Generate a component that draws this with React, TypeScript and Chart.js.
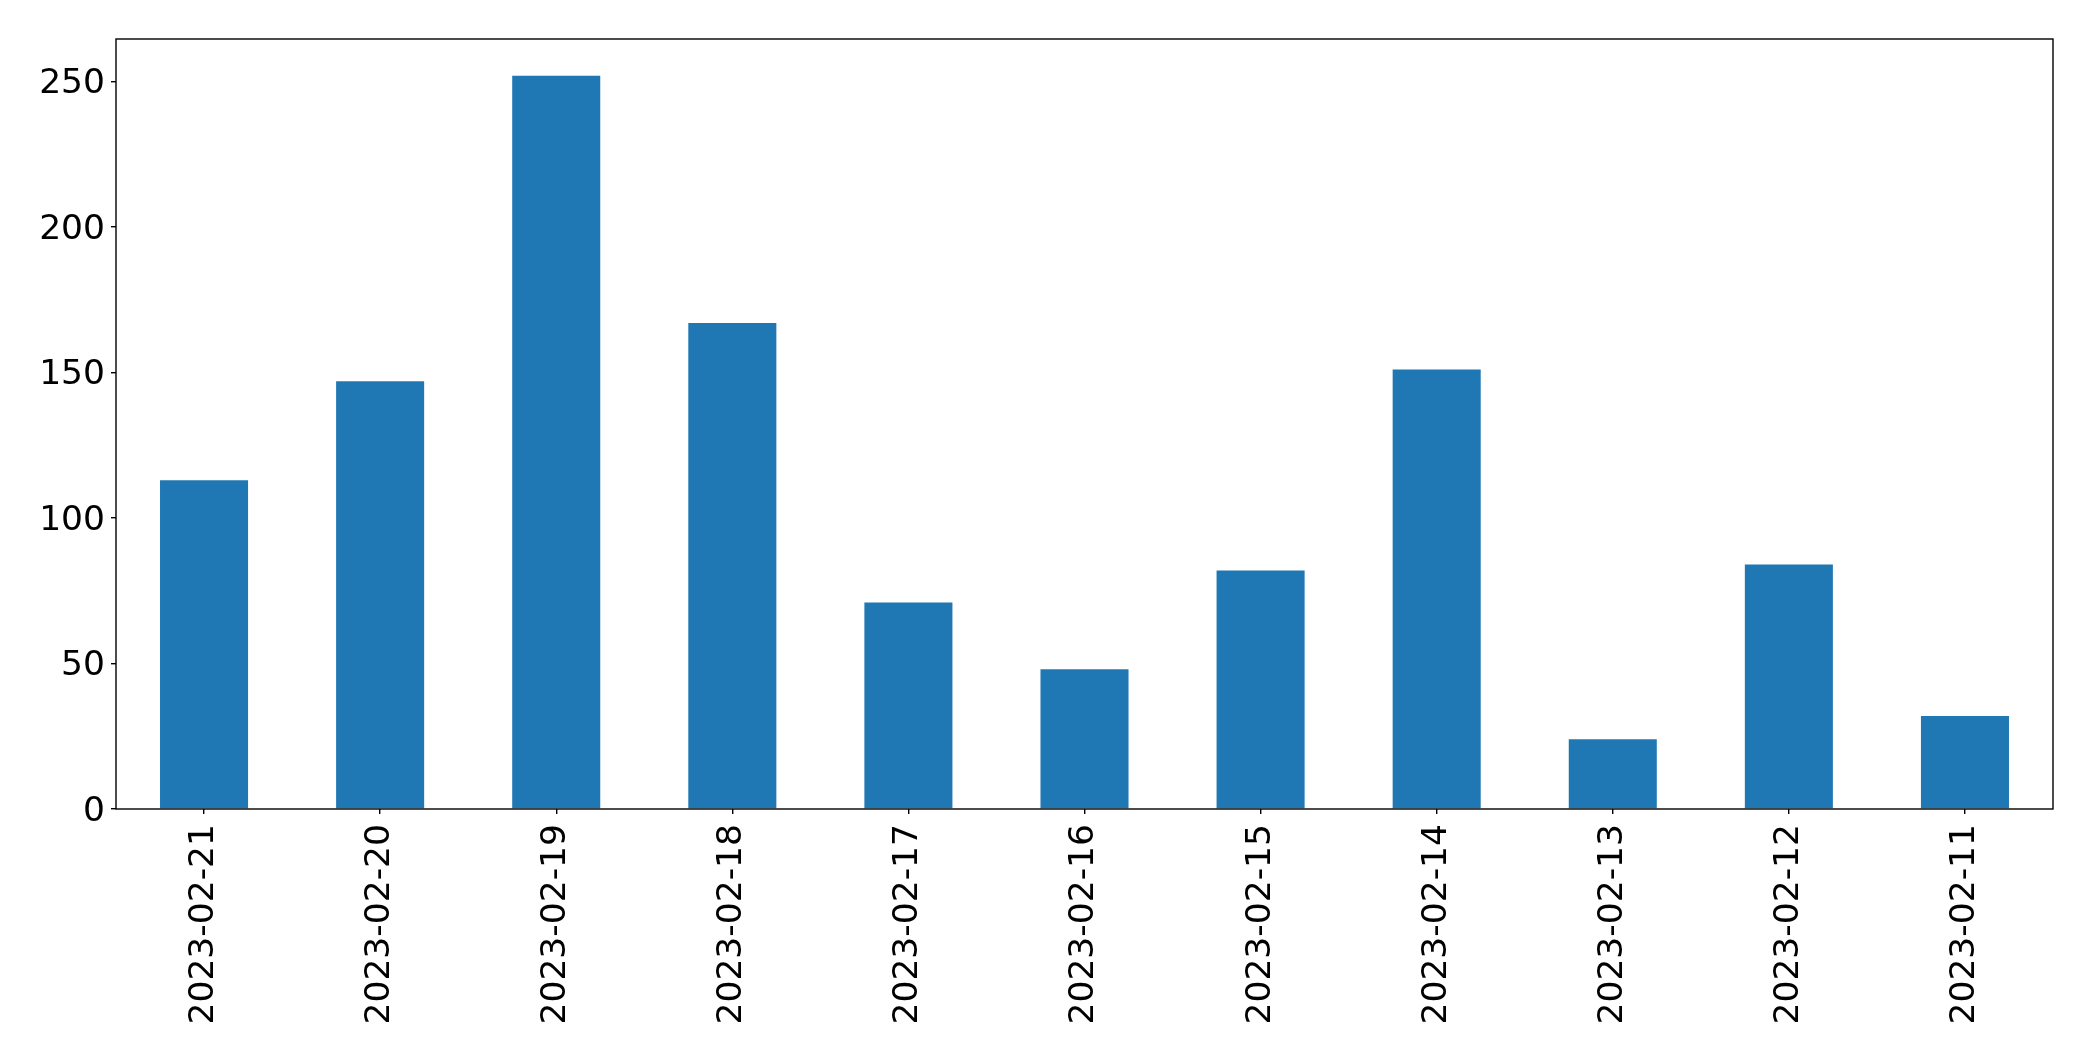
import React, { useEffect, useRef } from "react";
import { Chart, registerables } from "chart.js";

Chart.register(...registerables);

const categories = [
  "2023-02-21", "2023-02-20", "2023-02-19", "2023-02-18", "2023-02-17", "2023-02-16",
  "2023-02-15", "2023-02-14", "2023-02-13", "2023-02-12", "2023-02-11",
];
const counts = [113, 147, 252, 167, 71, 48, 82, 151, 24, 84, 32];
const yTickStep = 50;
const yMax = 264.6;

const W = 2093;
const H = 1061;

const frame = {
  id: "frame",
  afterDraw(chart: any) {
    const { ctx, chartArea } = chart;
    ctx.save();
    ctx.strokeStyle = "#000";
    ctx.lineWidth = 1.4;
    ctx.strokeRect(chartArea.left, chartArea.top, chartArea.right - chartArea.left, chartArea.bottom - chartArea.top);
    ctx.restore();
  },
};

export default function App() {
  const ref = useRef<HTMLCanvasElement | null>(null);
  useEffect(() => {
    if (!ref.current) return;
    const font = { family: "'DejaVu Sans'", size: 34.5 };
    const chart = new Chart(ref.current, {
      type: "bar",
      data: {
        labels: categories,
        datasets: [
          {
            data: counts,
            backgroundColor: "#1f77b4",
            categoryPercentage: 1,
            barPercentage: 0.5,
          },
        ],
      },
      options: {
        animation: false,
        responsive: false,
        devicePixelRatio: 1,
        layout: { padding: { top: 39, right: 40, left: 0, bottom: 0 } },
        plugins: { legend: { display: false }, tooltip: { enabled: false } },
        scales: {
          x: {
            offset: true,
            grid: { display: true, offset: false, drawOnChartArea: false, drawTicks: true, tickLength: 5, color: "#000", lineWidth: 1.4 },
            border: { display: false },
            ticks: { font, color: "#000", minRotation: 90, maxRotation: 90, autoSkip: false, padding: 10 },
            afterFit: (s: any) => { s.height = H - 809; },
          },
          y: {
            min: 0,
            max: yMax,
            grid: { display: true, drawOnChartArea: false, drawTicks: true, tickLength: 5, color: "#000", lineWidth: 1.4 },
            border: { display: false },
            ticks: { font, color: "#000", stepSize: yTickStep, includeBounds: false, padding: 6, labelOffset: 3 },
            afterFit: (s: any) => { s.width = 116; },
          },
        },
      },
      plugins: [frame],
    });
    return () => chart.destroy();
  }, []);
  return (
    <div style={{ position: "fixed", left: 0, top: 0, width: W, height: H, background: "#fff" }}>
      <canvas ref={ref} width={W} height={H} style={{ width: W, height: H, display: "block" }} />
    </div>
  );
}
